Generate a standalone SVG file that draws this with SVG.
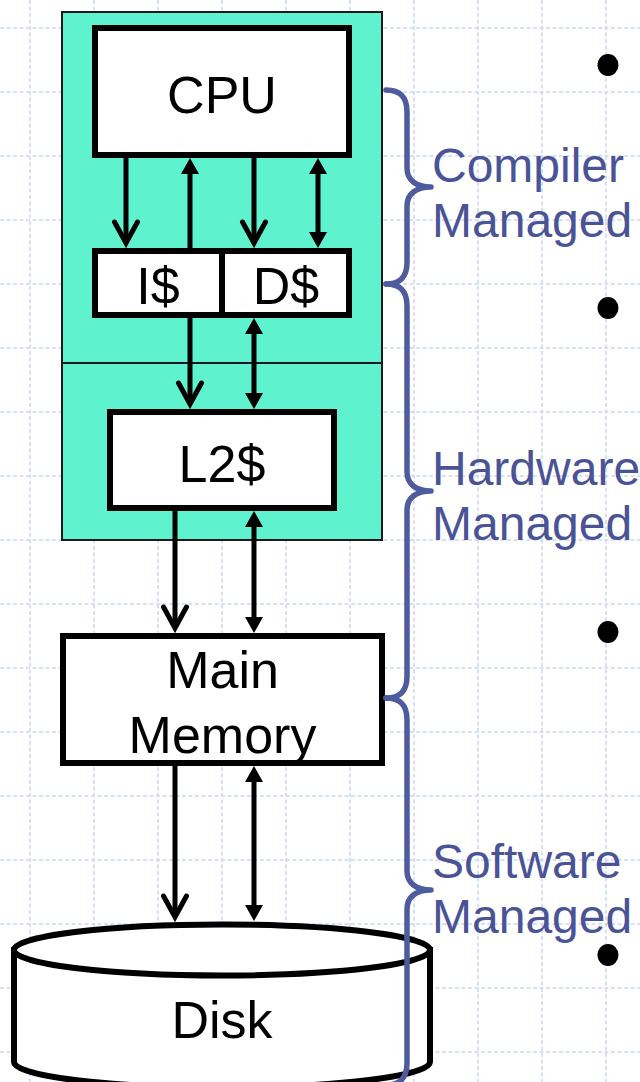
<svg xmlns="http://www.w3.org/2000/svg" width="640" height="1082" viewBox="0 0 640 1082">
<style>
.grid line{stroke:#CCD6F7;stroke-width:1.5;stroke-dasharray:4 2.5}
.box{fill:#fff;stroke:#000;stroke-width:6}
.chip{fill:#5EF3CE;stroke:#1A1A1A;stroke-width:2}
.t{font-family:"Liberation Sans",Arial,sans-serif;font-size:52px;text-anchor:middle;fill:#000}
.lbl{font-family:"Liberation Sans",Arial,sans-serif;font-size:48px;fill:#4A5396}
.brace{fill:none;stroke:#4F5B9F;stroke-width:5.5;stroke-linecap:round;stroke-linejoin:round}
.wire{stroke:#000;stroke-width:5;fill:none}
.down{marker-end:url(#vhead)}
.up{marker-end:url(#fhead)}
.bi{marker-start:url(#fhead);marker-end:url(#fhead)}
</style>
<defs>
<marker id="vhead" markerUnits="userSpaceOnUse" orient="auto" overflow="visible" markerWidth="1" markerHeight="1" refX="0" refY="0">
<path d="M-21,-11.5 L0,0 L-21,11.5" fill="none" stroke="#000" stroke-width="5" stroke-linejoin="miter" stroke-linecap="round"/>
</marker>
<marker id="fhead" markerUnits="userSpaceOnUse" orient="auto-start-reverse" overflow="visible" markerWidth="1" markerHeight="1" refX="-10" refY="0">
<path d="M0,0 L-16,-9 L-16,9 Z" fill="#000"/>
</marker>
</defs>
<rect width="640" height="1082" fill="#fff"/>
<g id="grid" class="grid">
<line x1="30" y1="0" x2="30" y2="1082"/><line x1="94" y1="0" x2="94" y2="1082"/><line x1="158" y1="0" x2="158" y2="1082"/><line x1="222" y1="0" x2="222" y2="1082"/><line x1="286" y1="0" x2="286" y2="1082"/><line x1="350" y1="0" x2="350" y2="1082"/><line x1="414" y1="0" x2="414" y2="1082"/><line x1="478" y1="0" x2="478" y2="1082"/><line x1="542" y1="0" x2="542" y2="1082"/><line x1="606" y1="0" x2="606" y2="1082"/>
<line x1="0" y1="28" x2="640" y2="28"/><line x1="0" y1="92" x2="640" y2="92"/><line x1="0" y1="156" x2="640" y2="156"/><line x1="0" y1="220" x2="640" y2="220"/><line x1="0" y1="284" x2="640" y2="284"/><line x1="0" y1="348" x2="640" y2="348"/><line x1="0" y1="412" x2="640" y2="412"/><line x1="0" y1="476" x2="640" y2="476"/><line x1="0" y1="540" x2="640" y2="540"/><line x1="0" y1="604" x2="640" y2="604"/><line x1="0" y1="668" x2="640" y2="668"/><line x1="0" y1="732" x2="640" y2="732"/><line x1="0" y1="796" x2="640" y2="796"/><line x1="0" y1="860" x2="640" y2="860"/><line x1="0" y1="924" x2="640" y2="924"/><line x1="0" y1="988" x2="640" y2="988"/><line x1="0" y1="1052" x2="640" y2="1052"/>
</g>
<g id="chip">
<rect class="chip" x="62" y="12" width="320" height="528"/>
<line x1="62" y1="363" x2="382" y2="363" stroke="#1A1A1A" stroke-width="2"/>
</g>
<g id="cpu">
<rect class="box" x="95" y="28" width="254" height="127"/>
<text class="t" x="222" y="113">CPU</text>
</g>
<g id="icache">
<rect class="box" x="95" y="251" width="127" height="64"/>
<text class="t" x="158" y="304">I$</text>
</g>
<g id="dcache">
<rect class="box" x="222" y="251" width="127" height="64"/>
<text class="t" x="286" y="304">D$</text>
</g>
<g id="l2cache">
<rect class="box" x="110" y="412" width="224" height="96"/>
<text class="t" x="222" y="482">L2$</text>
</g>
<g id="main-memory">
<rect class="box" x="63" y="636" width="319" height="127"/>
<text class="t" x="222.5" y="688">Main</text>
<text class="t" x="222.5" y="753">Memory</text>
</g>
<g id="disk">
<path class="box" d="M14,950 L14,1062 A208,25.5 0 0 0 430,1062 L430,950 Z"/>
<ellipse class="box" cx="222" cy="950" rx="208" ry="25.5"/>
<text class="t" x="222" y="1038">Disk</text>
</g>
<g id="connectors">
<path class="wire down" d="M126,158 L126,243"/>
<path class="wire up" d="M190,248 L190,168"/>
<path class="wire down" d="M254,158 L254,243"/>
<path class="wire bi" d="M318,168 L318,238"/>
<path class="wire down" d="M190,318 L190,404"/>
<path class="wire bi" d="M254,328 L254,399"/>
<path class="wire down" d="M175,511 L175,628"/>
<path class="wire bi" d="M254,521 L254,623"/>
<path class="wire down" d="M175,766 L175,917"/>
<path class="wire bi" d="M254,776 L254,911"/>
</g>
<g id="braces">
<path class="brace" d="M386,90 C400,90 407,97 407,112 L407,168 C407,180 416,187 431,187 C416,187 407,194 407,206 L407,262 C407,277 400,284 386,284"/>
<path class="brace" d="M386,284 C400,284 407,291 407,306 L407,472 C407,484 416,491 431,491 C416,491 407,498 407,510 L407,676 C407,691 400,698 386,698"/>
<path class="brace" d="M386,698 C400,698 407,705 407,720 L407,871 C407,883 416,890 431,890 C416,890 407,897 407,909 L407,1063 C407,1078 400,1085 386,1085"/>
</g>
<g id="labels">
<text class="lbl" x="432" y="182">Compiler</text>
<text class="lbl" x="432" y="237">Managed</text>
<text class="lbl" x="432" y="485">Hardware</text>
<text class="lbl" x="432" y="540">Managed</text>
<text class="lbl" x="432" y="878">Software</text>
<text class="lbl" x="432" y="933">Managed</text>
</g>
<g id="bullets" fill="#000">
<ellipse cx="608" cy="65" rx="10.5" ry="11"/>
<ellipse cx="608" cy="308" rx="10.5" ry="11"/>
<ellipse cx="608" cy="632" rx="10.5" ry="11"/>
<ellipse cx="608" cy="955" rx="10.5" ry="11"/>
</g>
</svg>
